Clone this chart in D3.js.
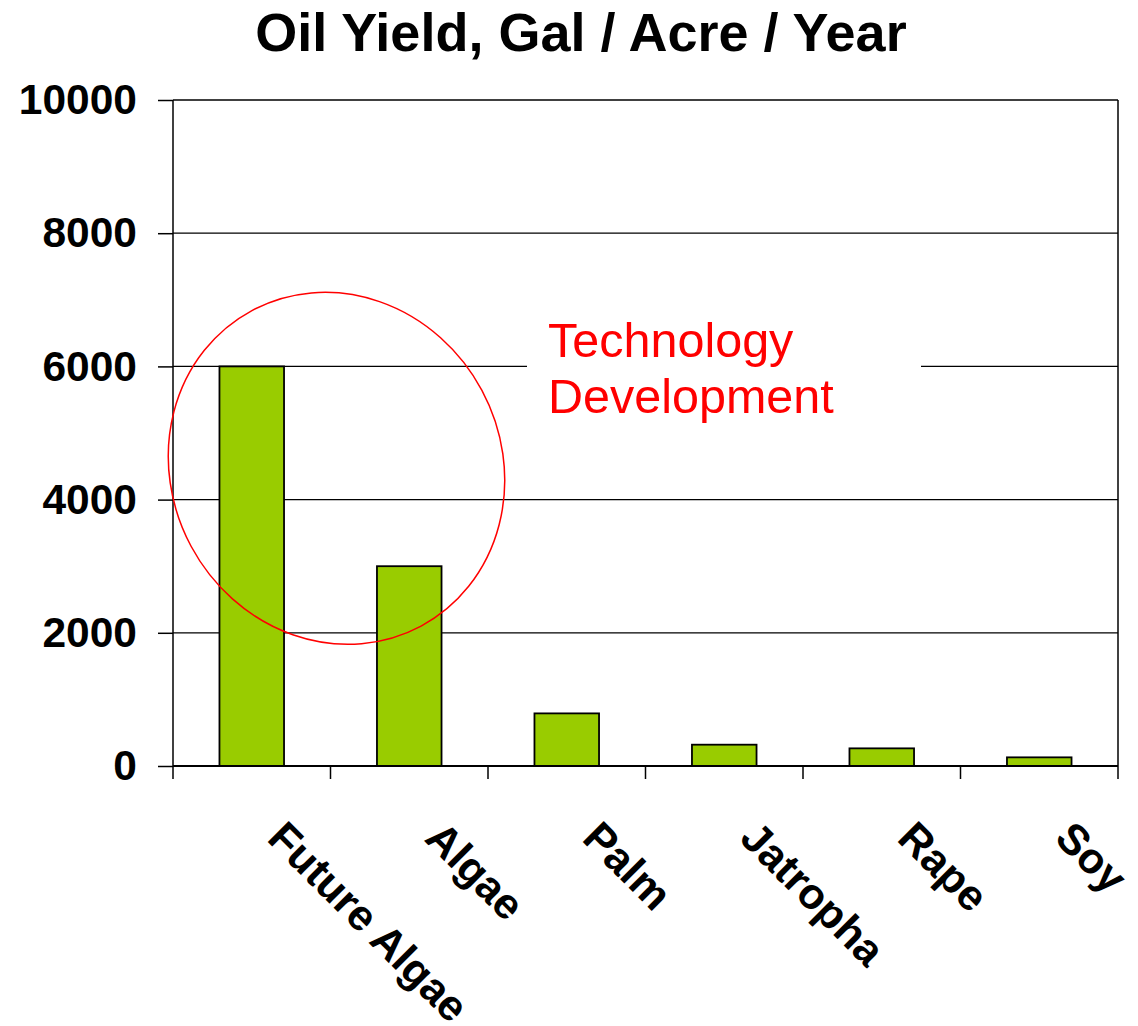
<!DOCTYPE html>
<html lang="en">
<head>
    <meta charset="UTF-8">
    <title>Oil Yield, Gal / Acre / Year</title>
    <script src="https://cdnjs.cloudflare.com/ajax/libs/d3/7.8.5/d3.min.js" charset="utf-8"></script>
    <style>
        body { margin: 0; background: #fff; }
        text { font-family: "Liberation Sans", Arial, sans-serif; }
    </style>
</head>
<body>
<svg width="1138" height="1026"></svg>
<script>
    // chart data
    var categories = ["Future Algae", "Algae", "Palm", "Jatropha", "Rape", "Soy"];
    var yieldValues = [6000, 3000, 790, 320, 265, 130];
    var yTicks = [0, 2000, 4000, 6000, 8000, 10000];
    var titleText = "Oil Yield, Gal / Acre / Year";
    var noteLines = ["Technology", "Development"];

    var svg = d3.select("svg");
    // note: "top" is taken by window.top, so plot edges get their own names
    var plotLeft = 173, plotRight = 1118, plotTop = 100, plotBottom = 766;

    var x = d3.scaleBand().domain(categories).range([plotLeft, plotRight]).padding(0);
    var y = d3.scaleLinear().domain([0, 10000]).range([plotBottom, plotTop]);

    // title
    svg.append("text")
        .attr("x", 581)
        .attr("y", 51)
        .attr("text-anchor", "middle")
        .style("font-size", "54px")
        .style("font-weight", "bold")
        .text(titleText);

    // gridlines
    svg.append("g").selectAll("line")
        .data(yTicks.filter(function (d) { return d > 0; }))
        .enter().append("line")
        .attr("x1", plotLeft).attr("x2", plotRight)
        .attr("y1", function (d) { return y(d); })
        .attr("y2", function (d) { return y(d); })
        .attr("stroke", "#000")
        .attr("stroke-width", 1.3);

    // right border
    svg.append("line")
        .attr("x1", plotRight).attr("x2", plotRight)
        .attr("y1", plotTop).attr("y2", plotBottom + 13)
        .attr("stroke", "#000").attr("stroke-width", 1.5);

    // white box behind the note (hides the gridline)
    svg.append("rect")
        .attr("x", 527).attr("y", 318)
        .attr("width", 394).attr("height", 106)
        .attr("fill", "#fff");

    // bars
    var barW = x.bandwidth() * 0.41;
    svg.append("g").selectAll("rect")
        .data(yieldValues)
        .enter().append("rect")
        .attr("x", function (d, i) { return x(categories[i]) + (x.bandwidth() - barW) / 2; })
        .attr("y", function (d) { return y(d); })
        .attr("width", barW)
        .attr("height", function (d) { return plotBottom - y(d); })
        .attr("fill", "#99cc00")
        .attr("stroke", "#000")
        .attr("stroke-width", 1.8);

    // y axis
    var yAxis = svg.append("g")
        .attr("transform", "translate(" + plotLeft + ",0)")
        .call(d3.axisLeft(y).tickValues(yTicks).tickFormat(d3.format("d"))
            .tickSize(15).tickPadding(21).tickSizeOuter(0));
    yAxis.select(".domain").attr("stroke", "#000").attr("stroke-width", 1.5)
        .attr("d", "M0," + plotTop + "V" + (plotBottom + 13));
    yAxis.selectAll(".tick line").attr("stroke", "#000").attr("stroke-width", 1.5);
    yAxis.selectAll(".tick text")
        .style("font-size", "42.5px")
        .style("font-weight", "bold")
        .attr("fill", "#000")
        .style("font-family", "'Liberation Sans', Arial, sans-serif");

    // x axis baseline and ticks
    svg.append("line")
        .attr("x1", plotLeft).attr("x2", plotRight)
        .attr("y1", plotBottom).attr("y2", plotBottom)
        .attr("stroke", "#000").attr("stroke-width", 2);

    svg.append("g").selectAll("line")
        .data(categories.slice(1))
        .enter().append("line")
        .attr("x1", function (d) { return x(d); })
        .attr("x2", function (d) { return x(d); })
        .attr("y1", plotBottom).attr("y2", plotBottom + 13)
        .attr("stroke", "#000").attr("stroke-width", 1.5);

    // rotated category labels
    svg.append("g").selectAll("text")
        .data(categories)
        .enter().append("text")
        .attr("transform", function (d) {
            return "translate(" + (x(d) + x.bandwidth() / 2 + 14) + "," + 840 + ") rotate(45)";
        })
        .style("font-size", "43px")
        .style("font-weight", "bold")
        .text(function (d) { return d; });

    // annotation ellipse
    svg.append("ellipse")
        .attr("transform", "translate(" + (x("Algae") + 6) + "," + y(4470) + ") rotate(61.8)")
        .attr("rx", 179).attr("ry", 165)
        .attr("fill", "none")
        .attr("stroke", "#ff0000")
        .attr("stroke-width", 1.5);

    svg.append("g").selectAll("text")
        .data(noteLines)
        .enter().append("text")
        .attr("x", 548)
        .attr("y", function (d, i) { return 357 + i * 56; })
        .attr("fill", "#ff0000")
        .style("font-size", "48.5px")
        .text(function (d) { return d; });
</script>
</body>
</html>
